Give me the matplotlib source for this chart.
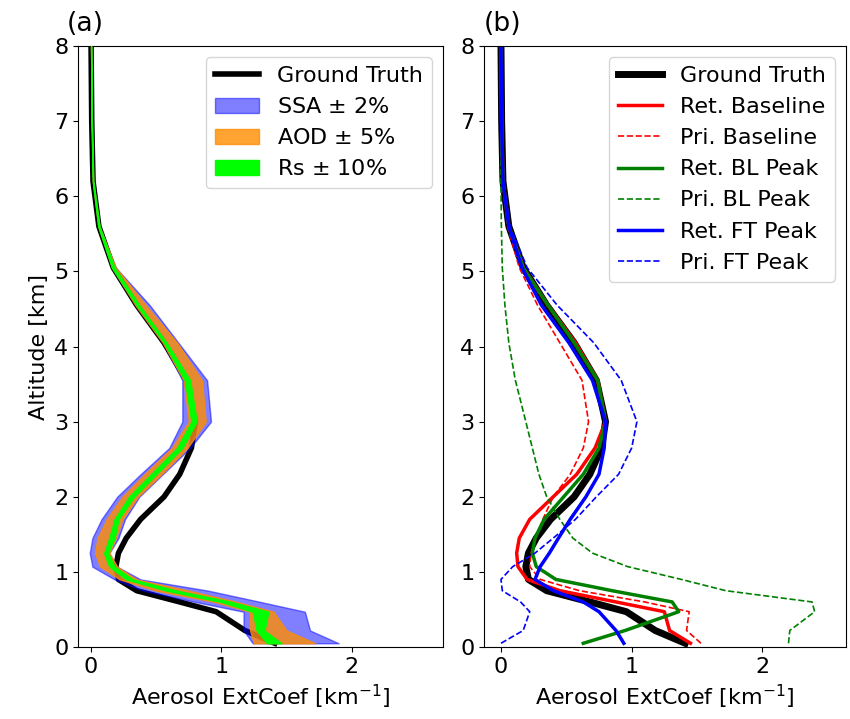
import matplotlib
matplotlib.use("Agg")
import matplotlib.pyplot as plt
import numpy as np

# altitude levels [km]
z = [0.05, 0.22, 0.47, 0.6, 0.75, 0.9, 1.07, 1.25, 1.45, 1.7, 2.0,
     2.3, 2.65, 3.0, 3.55, 4.05, 4.55, 5.05, 5.6, 6.2, 7.0, 8.0]

# ground truth extinction [km^-1]
truth = [1.41, 1.18, 0.96, 0.68, 0.35, 0.21, 0.19, 0.21, 0.27, 0.38, 0.56,
         0.68, 0.77, 0.80, 0.73, 0.56, 0.35, 0.17, 0.06, 0.015, 0.005, 0.0]

# (a) retrieval spread for perturbed inputs
ssa_lo = [1.24, 1.17, 1.17, 0.80, 0.40, 0.18, 0.01, -0.01, 0.01, 0.08, 0.20,
          0.38, 0.60, 0.70, 0.70, 0.55, 0.34, 0.16, 0.055, 0.013, 0.004, 0.0]
ssa_hi = [1.90, 1.68, 1.64, 1.30, 0.90, 0.38, 0.20, 0.14, 0.21, 0.26, 0.37,
          0.55, 0.76, 0.92, 0.89, 0.67, 0.45, 0.19, 0.065, 0.017, 0.006, 0.0]
aod_lo = [1.25, 1.22, 1.22, 0.95, 0.50, 0.22, 0.07, 0.03, 0.05, 0.12, 0.24,
          0.41, 0.62, 0.75, 0.71, 0.55, 0.34, 0.16, 0.055, 0.013, 0.004, 0.0]
aod_hi = [1.72, 1.50, 1.40, 1.12, 0.75, 0.35, 0.20, 0.14, 0.19, 0.24, 0.36,
          0.54, 0.74, 0.88, 0.85, 0.66, 0.42, 0.19, 0.065, 0.017, 0.006, 0.0]
rs_lo = [1.35, 1.27, 1.24, 1.00, 0.58, 0.27, 0.14, 0.10, 0.14, 0.18, 0.29,
         0.46, 0.66, 0.77, 0.72, 0.56, 0.35, 0.16, 0.055, 0.013, 0.004, 0.0]
rs_hi = [1.46, 1.33, 1.36, 1.08, 0.66, 0.32, 0.18, 0.13, 0.18, 0.21, 0.33,
         0.50, 0.70, 0.81, 0.76, 0.58, 0.37, 0.18, 0.065, 0.017, 0.006, 0.0]

# (b) retrieved and prior profiles
ret_base = [1.45, 1.29, 1.25, 0.88, 0.45, 0.20, 0.13, 0.12, 0.14, 0.22, 0.40,
            0.58, 0.72, 0.80, 0.74, 0.57, 0.36, 0.17, 0.06, 0.015, 0.005, 0.0]
pri_base = [1.53, 1.42, 1.44, 1.10, 0.60, 0.30, 0.22, 0.23, 0.27, 0.32, 0.40,
            0.53, 0.63, 0.67, 0.62, 0.45, 0.28, 0.14, 0.05, 0.012, 0.004, 0.0]
ret_bl = [0.63, 0.95, 1.36, 1.31, 0.85, 0.42, 0.27, 0.24, 0.26, 0.33, 0.48,
          0.63, 0.75, 0.80, 0.74, 0.56, 0.36, 0.17, 0.06, 0.015, 0.005, 0.0]
pri_bl = [2.20, 2.21, 2.40, 2.38, 1.72, 1.38, 0.97, 0.70, 0.55, 0.45, 0.35,
          0.29, 0.24, 0.19, 0.11, 0.06, 0.03, 0.01, 0.003, 0.0, 0.0, 0.0]
ret_ft = [0.94, 0.88, 0.75, 0.63, 0.40, 0.26, 0.30, 0.37, 0.44, 0.53, 0.65,
          0.75, 0.79, 0.80, 0.70, 0.52, 0.31, 0.16, 0.06, 0.015, 0.005, 0.0]
pri_ft = [0.00, 0.17, 0.22, 0.15, 0.01, 0.00, 0.09, 0.26, 0.40, 0.57, 0.73,
          0.90, 1.00, 1.04, 0.92, 0.71, 0.43, 0.20, 0.07, 0.018, 0.005, 0.0]

plt.rcParams['font.size'] = 16

fig = plt.figure(figsize=(8.5, 7.19), dpi=100)
ax1 = fig.add_axes([0.0918, 0.1001, 0.4294, 0.8359])
ax2 = fig.add_axes([0.5694, 0.1001, 0.4259, 0.8359])

# panel (a): truth underneath the spread bands
ax1.plot(truth, z, color='k', lw=4, label='Ground Truth', zorder=1)
ax1.fill_betweenx(z, ssa_lo, ssa_hi, color='b', alpha=0.5, label='SSA $\\pm$ 2%', zorder=2)
ax1.fill_betweenx(z, aod_lo, aod_hi, color='darkorange', alpha=0.8, label='AOD $\\pm$ 5%', zorder=3)
ax1.fill_betweenx(z, rs_lo, rs_hi, color='lime', label='Rs $\\pm$ 10%', zorder=4)
ax1.set_xlim(-0.1, 2.7)
ax1.set_ylim(0, 8)
ax1.set_xlabel('Aerosol ExtCoef [km$^{-1}$]')
ax1.set_ylabel('Altitude [km]')
ax1.set_title('(a)', loc='left', x=-0.03, pad=11)
ax1.legend(loc='upper right')

# panel (b)
ax2.plot(truth, z, color='k', lw=5, label='Ground Truth')
ax2.plot(ret_base, z, color='r', lw=2.5, label='Ret. Baseline')
ax2.plot(pri_base, z, 'r--', lw=1.2, label='Pri. Baseline')
ax2.plot(ret_bl, z, color='g', lw=2.5, label='Ret. BL Peak')
ax2.plot(pri_bl, z, 'g--', lw=1.2, label='Pri. BL Peak')
ax2.plot(ret_ft, z, color='b', lw=2.5, label='Ret. FT Peak')
ax2.plot(pri_ft, z, 'b--', lw=1.2, label='Pri. FT Peak')
ax2.set_xlim(-0.13, 2.64)
ax2.set_ylim(0, 8)
ax2.set_xlabel('Aerosol ExtCoef [km$^{-1}$]')
ax2.set_title('(b)', loc='left', pad=11)
ax2.legend(loc='upper right')

for ax in (ax1, ax2):
    ax.set_xticks([0, 1, 2])
    ax.set_yticks(np.arange(0, 9, 1))

fig.savefig('out.png', dpi=100)
